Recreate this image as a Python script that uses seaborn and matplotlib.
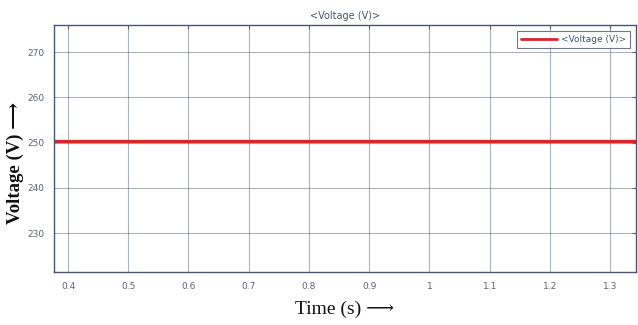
import matplotlib
matplotlib.use("Agg")
import matplotlib.pyplot as plt
import seaborn as sns
import pandas as pd

time_s = [0.3767, 0.6, 0.9, 1.2, 1.343]
voltage_v = [250.4, 250.4, 250.4, 250.4, 250.4]
x_ticks = [0.4, 0.5, 0.6, 0.7, 0.8, 0.9, 1.0, 1.1, 1.2, 1.3]
x_tick_labels = ["0.4", "0.5", "0.6", "0.7", "0.8", "0.9", "1", "1.1", "1.2", "1.3"]
y_ticks = [230, 240, 250, 260, 270]
series_name = "<Voltage (V)>"

sns.set_style("white")
plt.rcParams['font.family'] = ['DejaVu Sans']

df = pd.DataFrame({"t": time_s, "v": voltage_v, "s": series_name})

fig = plt.figure(figsize=(6.38, 3.25), dpi=100)
ax = fig.add_axes([54/638, 1-272/325, (636-54)/638, (272-25)/325])

sns.lineplot(data=df, x="t", y="v", hue="s", palette=["#d9262c"], linewidth=2.4, ax=ax)

ax.set_xlim(0.3767, 1.343)
ax.set_ylim(221.4, 276.0)
ax.set_xticks(x_ticks)
ax.set_xticklabels(x_tick_labels)
ax.set_yticks(y_ticks)
ax.grid(True, color="#4a5468", linewidth=0.8, alpha=0.45)
ax.set_axisbelow(True)
ax.tick_params(axis="both", direction="in", length=3, labelsize=6.5, colors="#5a6478",
               top=True, right=True, pad=7)
for sp in ax.spines.values():
    sp.set_color("#4a5570")
    sp.set_linewidth(1.0)

serif = ["Liberation Serif", "DejaVu Serif", "DejaVu Sans"]
ax.set_title(series_name, fontsize=7, color="#4a5570", pad=4)
ax.set_xlabel("Time (s) \u27f6", fontsize=14, family=serif, labelpad=7, color="#111111")
ax.set_ylabel("Voltage (V) \u27f6", fontsize=13.5, family=serif, weight="bold", labelpad=2, color="#111111")
ax.yaxis.set_label_coords(-0.051, 0.44)

leg = ax.legend(loc="upper right", fontsize=6.5, frameon=True, fancybox=False,
                edgecolor="#4a5570", handlelength=4.0, borderaxespad=0.7,
                borderpad=0.4, handletextpad=0.4)
for t in leg.get_texts():
    t.set_color("#4a5570")
for l in leg.get_lines():
    l.set_linewidth(2.0)
leg.get_frame().set_linewidth(0.8)

fig.savefig("out.png", dpi=100)
